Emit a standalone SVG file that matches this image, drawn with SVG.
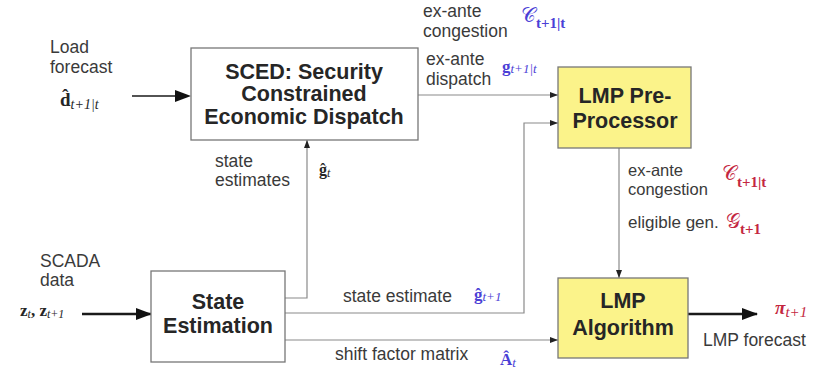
<svg xmlns="http://www.w3.org/2000/svg" width="821" height="375" viewBox="0 0 821 375">
  <style>
    .box { fill: #ffffff; stroke: #777777; stroke-width: 1.3; }
    .ybox { fill: #fbf38a; stroke: #777777; stroke-width: 1.3; }
    .title { font-family: "Liberation Sans", Arial, sans-serif; font-weight: bold; font-size: 21.5px; fill: #262626; text-anchor: middle; }
    .lbl { font-family: "Liberation Sans", Arial, sans-serif; font-size: 17.5px; fill: #3a3a3a; }
    .math { font-family: "Liberation Serif", "DejaVu Serif", serif; font-size: 19px; font-weight: bold; }
    .sub { font-family: "Liberation Serif", "DejaVu Serif", serif; font-size: 14px; font-style: italic; font-weight: normal; }
    .subb { font-family: "Liberation Serif", "DejaVu Serif", serif; font-size: 15px; font-weight: bold; font-style: normal; }
    .cal { font-family: "DejaVu Sans", "DejaVu Serif", serif; font-size: 20px; font-weight: normal; }
    .blue { fill: #4b3fd6; }
    .red { fill: #c4273f; }
    .dark { fill: #262626; }
    .thin { fill: none; stroke: #8a8a8a; stroke-width: 1.2; }
    .thick { fill: none; stroke: #1a1a1a; stroke-width: 2.4; }
  </style>
  <defs>
    <marker id="small" markerWidth="8" markerHeight="6" refX="8" refY="3" orient="auto" markerUnits="userSpaceOnUse">
      <path d="M0,0 L8,3 L0,6 Z" fill="#222"/>
    </marker>
    <marker id="big" markerWidth="16" markerHeight="12" refX="15" refY="6" orient="auto" markerUnits="userSpaceOnUse">
      <path d="M0,0 L16,6 L0,12 Z" fill="#111"/>
    </marker>
  </defs>

  <!-- connectors -->
  <g id="connectors">
    <line x1="132" y1="96" x2="176" y2="96" style="stroke:#1a1a1a;stroke-width:1.6"/>
    <path d="M175,90 L191,96 L175,102 Z" fill="#111"/>
    <line class="thin" x1="418" y1="95" x2="558" y2="95" marker-end="url(#small)"/>
    <polyline class="thin" points="285,313 524,313 524,123 558,123" marker-end="url(#small)"/>
    <polyline class="thin" points="285,298 307,298 307,140" marker-end="url(#small)"/>
    <line class="thin" x1="285" y1="340" x2="558" y2="340" marker-end="url(#small)"/>
    <line class="thin" x1="619" y1="148" x2="619" y2="278" marker-end="url(#small)"/>
    <line class="thick" x1="82" y1="314" x2="151" y2="314" marker-end="url(#big)"/>
    <line class="thick" x1="688" y1="314" x2="757" y2="314" marker-end="url(#big)"/>
  </g>

  <!-- SCED block -->
  <g id="sced">
    <rect class="box" x="191" y="48" width="227" height="92"/>
    <text class="title" x="304" y="79">SCED: Security</text>
    <text class="title" x="304" y="101">Constrained</text>
    <text class="title" x="304" y="124">Economic Dispatch</text>
  </g>

  <!-- LMP pre-processor -->
  <g id="preprocessor">
    <rect class="ybox" x="558" y="67" width="133" height="81"/>
    <text class="title" x="625" y="103">LMP Pre-</text>
    <text class="title" x="625" y="128">Processor</text>
  </g>

  <!-- State estimation -->
  <g id="state-estimation">
    <rect class="box" x="151" y="271" width="134" height="91"/>
    <text class="title" x="218" y="309">State</text>
    <text class="title" x="218" y="333">Estimation</text>
  </g>

  <!-- LMP algorithm -->
  <g id="lmp-algorithm">
    <rect class="ybox" x="558" y="278" width="130" height="80"/>
    <text class="title" x="623" y="308">LMP</text>
    <text class="title" x="623" y="335">Algorithm</text>
  </g>

  <!-- labels -->
  <g id="labels">
    <text class="lbl" x="50" y="53">Load<tspan x="50" y="73">forecast</tspan></text>
    <text class="math dark" x="60" y="106">d̂<tspan class="sub" dy="3">t+1|t</tspan></text>

    <text class="lbl" x="215" y="167">state<tspan x="215" y="186">estimates</tspan></text>
    <text class="math dark" x="319" y="175" style="font-size:16px">ĝ<tspan class="sub" dy="2" style="font-size:12px">t</tspan></text>

    <text class="lbl" x="423" y="17">ex-ante<tspan x="423" y="37">congestion</tspan></text>
    <text class="cal blue" x="521" y="22">𝒞<tspan class="subb" dy="6">t+1|t</tspan></text>

    <text class="lbl" x="426" y="65">ex-ante<tspan x="426" y="85">dispatch</tspan></text>
    <text class="math blue" x="502" y="72" style="font-size:17px">g<tspan class="sub" dy="1" style="font-size:13px">t+1|t</tspan></text>

    <text class="lbl" x="628" y="176" style="font-size:16.5px">ex-ante<tspan x="628" y="195">congestion</tspan></text>
    <text class="cal red" x="722" y="180">𝒞<tspan class="subb" dy="7">t+1|t</tspan></text>
    <text class="lbl" x="628" y="228" style="font-size:17px">eligible gen.</text>
    <text class="cal red" x="726" y="228">𝒢<tspan class="subb" dy="6">t+1</tspan></text>

    <text class="lbl" x="40" y="267">SCADA<tspan x="40" y="286">data</tspan></text>
    <text class="math dark" x="20" y="316" style="font-size:17px">z<tspan class="sub" dy="2" style="font-size:12px">t</tspan><tspan dy="-2">, z</tspan><tspan class="sub" dy="2" style="font-size:12px">t+1</tspan></text>

    <text class="lbl" x="343" y="302">state estimate</text>
    <text class="math blue" x="474" y="300" style="font-size:17px">ĝ<tspan class="sub" dy="1" style="font-size:13px">t+1</tspan></text>

    <text class="lbl" x="335" y="360">shift factor matrix</text>
    <text class="math blue" x="500" y="365" style="font-size:17px">Â<tspan class="sub" dy="2" style="font-size:13px">t</tspan></text>

    <text class="math red" x="775" y="314" style="font-style:italic">π<tspan class="sub" dy="3" style="font-size:15px">t+1</tspan></text>
    <text class="lbl" x="703" y="346">LMP forecast</text>
  </g>
</svg>
